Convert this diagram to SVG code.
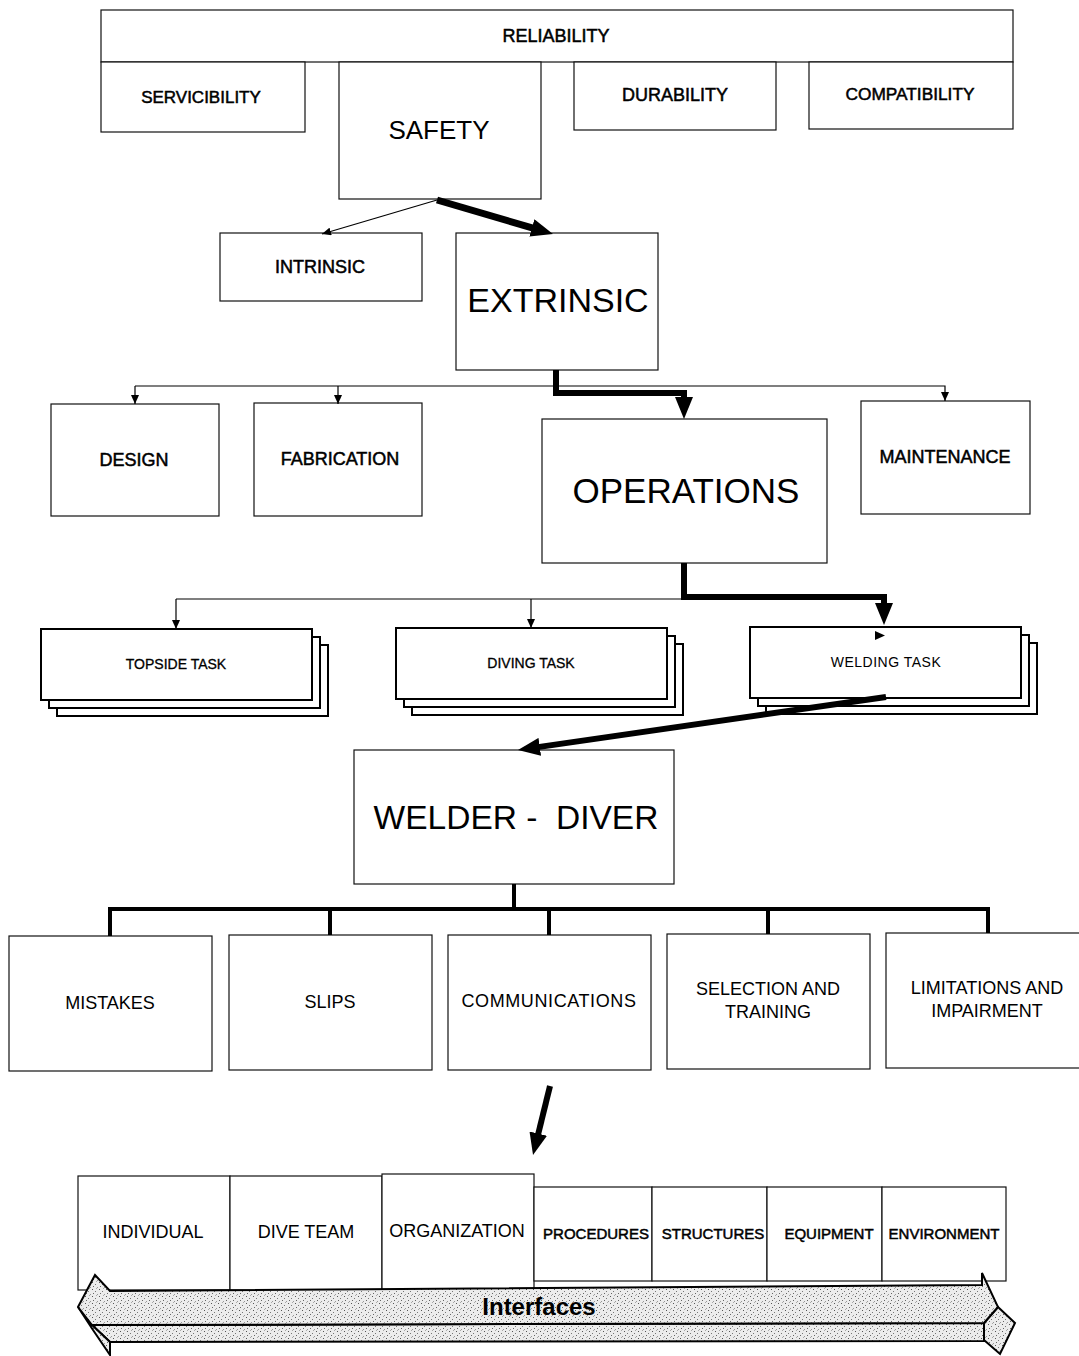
<svg xmlns="http://www.w3.org/2000/svg" width="1079" height="1356" viewBox="0 0 1079 1356">
<style>
.box{fill:#fff;stroke:#111;stroke-width:1.2}
.tbox{fill:#fff;stroke:#000;stroke-width:2}
text{font-family:"Liberation Sans",Arial,sans-serif;fill:#000;text-anchor:middle;dominant-baseline:central}
.s{font-size:18px}
.t{font-size:14px}
.b{font-size:15px}
.big{font-size:34px}
.hv{stroke:#000;stroke-width:0.5}
.thin{stroke:#000;stroke-width:1.2;fill:none}
.thick{stroke:#000;stroke-width:6;fill:none}
.tree{stroke:#000;stroke-width:4;fill:none}
.stip{fill:url(#dots);stroke:#000;stroke-width:2;stroke-linejoin:miter}
</style>
<defs>
<marker id="ah" markerUnits="userSpaceOnUse" viewBox="0 0 9 8" markerWidth="9" markerHeight="8" refX="9" refY="4" orient="auto"><path d="M0,0 L9,4 L0,8 z" fill="#000"/></marker>
<marker id="AH" markerUnits="userSpaceOnUse" viewBox="0 0 22 18" markerWidth="22" markerHeight="18" refX="2" refY="9" orient="auto"><path d="M0,0 L22,9 L0,18 z" fill="#000"/></marker>
<pattern id="dots" patternUnits="userSpaceOnUse" width="7" height="7">
<rect width="7" height="7" fill="#ececec"/>
<rect x="1" y="1" width="1" height="1" fill="#555"/>
<rect x="4" y="3" width="1" height="1" fill="#777"/>
<rect x="2" y="5" width="1" height="1" fill="#666"/>
<rect x="6" y="6" width="1" height="1" fill="#999"/>
<rect x="5" y="0" width="1" height="1" fill="#aaa"/>
</pattern>
</defs>

<g id="reliability"><rect class="box" x="101" y="10" width="912" height="52"/><text class="s hv" x="556" y="36">RELIABILITY</text></g>
<g id="servicibility"><rect class="box" x="101" y="62" width="204" height="70"/><text class="s hv" x="201" y="97" style="font-size:17px">SERVICIBILITY</text></g>
<g id="safety"><rect class="box" x="339" y="62" width="202" height="137"/><text x="439" y="130" style="font-size:26px">SAFETY</text></g>
<g id="durability"><rect class="box" x="574" y="62" width="202" height="68"/><text class="s hv" x="675" y="95">DURABILITY</text></g>
<g id="compatibility"><rect class="box" x="809" y="62" width="204" height="67"/><text class="s hv" x="910" y="94" style="font-size:17.3px">COMPATIBILITY</text></g>

<g id="intrinsic"><rect class="box" x="220" y="233" width="202" height="68"/><text class="s hv" x="320" y="267">INTRINSIC</text></g>
<g id="extrinsic"><rect class="box" x="456" y="233" width="202" height="137"/><text class="big" x="558" y="300">EXTRINSIC</text></g>

<g id="design"><rect class="box" x="51" y="404" width="168" height="112"/><text class="s hv" x="134" y="460">DESIGN</text></g>
<g id="fabrication"><rect class="box" x="254" y="403" width="168" height="113"/><text class="s hv" x="340" y="459">FABRICATION</text></g>
<g id="operations"><rect class="box" x="542" y="419" width="285" height="144"/><text x="686" y="490" style="font-size:35px">OPERATIONS</text></g>
<g id="maintenance"><rect class="box" x="861" y="401" width="169" height="113"/><text class="s hv" x="945" y="457">MAINTENANCE</text></g>

<g id="topside-task">
<rect class="tbox" x="57" y="645" width="271" height="71"/>
<rect class="tbox" x="49" y="637" width="271" height="71"/>
<rect class="tbox" x="41" y="629" width="271" height="71"/>
<text class="t hv" x="176" y="664" style="stroke-width:0.3">TOPSIDE TASK</text></g>
<g id="diving-task">
<rect class="tbox" x="412" y="644" width="271" height="71"/>
<rect class="tbox" x="404" y="636" width="271" height="71"/>
<rect class="tbox" x="396" y="628" width="271" height="71"/>
<text class="t hv" x="531" y="663" style="stroke-width:0.3">DIVING TASK</text></g>
<g id="welding-task">
<rect class="tbox" x="766" y="643" width="271" height="71"/>
<rect class="tbox" x="758" y="635" width="271" height="71"/>
<rect class="tbox" x="750" y="627" width="271" height="71"/>
<text class="t" x="886" y="662" style="letter-spacing:0.5px">WELDING TASK</text></g>

<g id="welder-diver"><rect class="box" x="354" y="750" width="320" height="134"/><text x="516" y="817" style="font-size:33.5px;white-space:pre" xml:space="preserve">WELDER -  DIVER</text></g>

<g id="mistakes"><rect class="box" x="9" y="936" width="203" height="135"/><text class="s" x="110" y="1003">MISTAKES</text></g>
<g id="slips"><rect class="box" x="229" y="935" width="203" height="135"/><text class="s" x="330" y="1002">SLIPS</text></g>
<g id="communications"><rect class="box" x="448" y="935" width="203" height="135"/><text class="s" x="549" y="1001" style="letter-spacing:0.6px">COMMUNICATIONS</text></g>
<g id="selection-training"><rect class="box" x="667" y="934" width="203" height="135"/><text class="s" x="768" y="989">SELECTION AND</text><text class="s" x="768" y="1012">TRAINING</text></g>
<g id="limitations-impairment"><rect class="box" x="886" y="933" width="200" height="135"/><text class="s" x="987" y="988">LIMITATIONS AND</text><text class="s" x="987" y="1011">IMPAIRMENT</text></g>

<g id="individual"><rect class="box" x="78" y="1176" width="152" height="114"/><text class="s" x="153" y="1232">INDIVIDUAL</text></g>
<g id="dive-team"><rect class="box" x="230" y="1176" width="152" height="114"/><text class="s" x="306" y="1232">DIVE TEAM</text></g>
<g id="organization"><rect class="box" x="382" y="1174" width="152" height="116"/><text class="s" x="457" y="1231">ORGANIZATION</text></g>
<g id="procedures"><rect class="box" x="534" y="1187" width="118" height="94"/><text class="b hv" x="596" y="1233">PROCEDURES</text></g>
<g id="structures"><rect class="box" x="652" y="1187" width="115" height="94"/><text class="b hv" x="713" y="1233">STRUCTURES</text></g>
<g id="equipment"><rect class="box" x="767" y="1187" width="115" height="94"/><text class="b hv" x="829" y="1233">EQUIPMENT</text></g>
<g id="environment"><rect class="box" x="882" y="1187" width="124" height="94"/><text class="b hv" x="944" y="1233">ENVIRONMENT</text></g>

<g id="interfaces">
<polygon class="stip" points="92,1325 984,1323 984,1341 110,1342"/>
<polygon class="stip" points="78,1307 92,1325 110,1342 110,1355 93,1330"/>
<polygon class="stip" points="998,1307 1015,1323 1000,1354 984,1340 984,1323"/>
<polygon class="stip" points="78,1307 95,1275 110,1291 982,1285 982,1273 998,1307 984,1323 92,1325"/>
<text x="539" y="1306" style="font-size:24px;font-weight:bold">Interfaces</text>
</g>

<g id="connectors">
<line class="thin" x1="437" y1="200" x2="322" y2="234" marker-end="url(#ah)"/>
<line class="thick" x1="437" y1="200" x2="533.8" y2="228.4" marker-end="url(#AH)" style="stroke-width:7"/>
<polyline class="thin" points="135,386 945,386 945,401" marker-end="url(#ah)"/>
<line class="thin" x1="135" y1="386" x2="135" y2="404" marker-end="url(#ah)"/>
<line class="thin" x1="338" y1="386" x2="338" y2="404" marker-end="url(#ah)"/>
<polyline class="thick" points="556,370 556,393 684,393 684,399" marker-end="url(#AH)"/>
<polyline class="thin" points="176,599 880,599"/>
<line class="thin" x1="176" y1="599" x2="176" y2="629" marker-end="url(#ah)"/>
<line class="thin" x1="531" y1="599" x2="531" y2="628" marker-end="url(#ah)"/>
<polygon points="875,631 885,635.5 875,640" fill="#000"/>
<polyline class="thick" points="684,563 684,597 884,597 884,605" marker-end="url(#AH)"/>
<line class="thick" x1="886" y1="697" x2="537.8" y2="747.1" marker-end="url(#AH)"/>
<polyline class="tree" points="514,884 514,909"/>
<polyline class="tree" points="110,936 110,909 988,909 988,933"/>
<line class="tree" x1="330" y1="909" x2="330" y2="935"/>
<line class="tree" x1="549" y1="909" x2="549" y2="935"/>
<line class="tree" x1="768" y1="909" x2="768" y2="934"/>
<line class="thick" x1="550" y1="1086" x2="537.8" y2="1135.6" marker-end="url(#AH)"/>
</g>
</svg>
